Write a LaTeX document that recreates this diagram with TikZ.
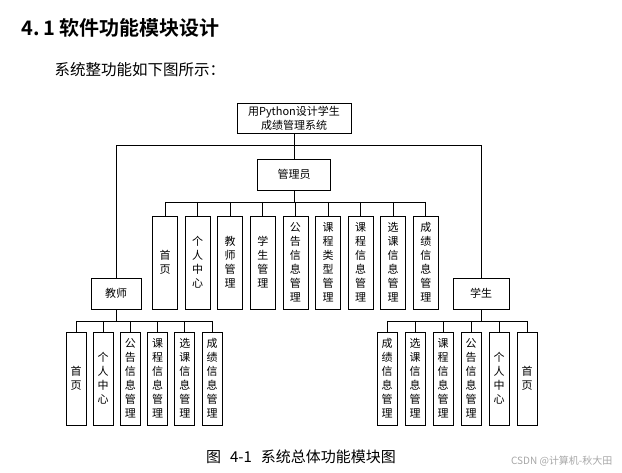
\documentclass[tikz,border=0pt]{standalone}
\usepackage{fontspec}
\setmainfont{Liberation Serif}
\newfontfamily\cjk[BoldFont={Noto Sans CJK SC Bold}]{Noto Sans CJK SC}
\tikzset{
  modbox/.style={draw, line width=0.7pt, fill=white, align=center, inner sep=0pt,
    font=\cjk\fontsize{11}{14}\selectfont},
  leafbox/.style={modbox, minimum height=93pt},
  link/.style={line width=0.7pt}
}
\begin{document}
\begin{tikzpicture}[x=1pt, y=-1pt]
  \useasboundingbox (0,0) rectangle (622,473);
  % 标题与说明
  \node[anchor=west, font=\cjk\bfseries\fontsize{20}{20}\selectfont] (title) at (18,28) {4.\,1\ 软件功能模块设计};
  \node[anchor=west, font=\cjk\fontsize{15.5}{15.5}\selectfont] (intro) at (51,70) {系统整功能如下图所示：};
  % 上层模块
  \node[modbox, minimum width=114pt, minimum height=30pt] (sys) at (294,118) {用Python设计学生\\成绩管理系统};
  \node[modbox, minimum width=73pt, minimum height=31pt] (admin) at (294,174.5) {管理员};
  \node[modbox, minimum width=50pt, minimum height=31pt] (teacher) at (116,293.5) {教师};
  \node[modbox, minimum width=56pt, minimum height=31pt] (student) at (481,293.5) {学生};
  \coordinate (sysbus) at (294,145);
  \draw[link] (sys.south) -- (admin.north);
  \draw[link] (teacher.north) -- (teacher.north |- sysbus) -- (student.north |- sysbus) -- (student.north);
  % 管理员功能
  \foreach \lbl [count=\i] in {{首\\页}, {个\\人\\中\\心}, {教\\师\\管\\理}, {学\\生\\管\\理},
      {公\\告\\信\\息\\管\\理}, {课\\程\\类\\型\\管\\理}, {课\\程\\信\\息\\管\\理},
      {选\\课\\信\\息\\管\\理}, {成\\绩\\信\\息\\管\\理}}
    \node[leafbox, minimum width=25pt] (a\i) at ({165+32.6*(\i-1)},262.5) {\lbl};
  \coordinate (abus) at (294,202);
  \draw[link] (admin.south) -- (abus);
  \draw[link] (a1.north |- abus) -- (a9.north |- abus);
  \foreach \i in {1,...,9}
    \draw[link] (a\i.north |- abus) -- (a\i.north);
  % 教师功能
  \foreach \lbl [count=\i] in {{首\\页}, {个\\人\\中\\心}, {公\\告\\信\\息\\管\\理},
      {课\\程\\信\\息\\管\\理}, {选\\课\\信\\息\\管\\理}, {成\\绩\\信\\息\\管\\理}}
    \node[leafbox, minimum width=20pt] (t\i) at ({76+27.2*(\i-1)},378.5) {\lbl};
  \coordinate (tbus) at (116,321);
  \draw[link] (teacher.south) -- (tbus);
  \draw[link] (t1.north |- tbus) -- (t6.north |- tbus);
  \foreach \i in {1,...,6}
    \draw[link] (t\i.north |- tbus) -- (t\i.north);
  % 学生功能
  \foreach \lbl [count=\i] in {{成\\绩\\信\\息\\管\\理}, {选\\课\\信\\息\\管\\理},
      {课\\程\\信\\息\\管\\理}, {公\\告\\信\\息\\管\\理}, {个\\人\\中\\心}, {首\\页}}
    \node[leafbox, minimum width=20pt] (s\i) at ({387+28*(\i-1)},378.5) {\lbl};
  \coordinate (sbus) at (481,321);
  \draw[link] (student.south) -- (sbus);
  \draw[link] (s1.north |- sbus) -- (s6.north |- sbus);
  \foreach \i in {1,...,6}
    \draw[link] (s\i.north |- sbus) -- (s\i.north);
  % 图题
  \node[font=\cjk\fontsize{15}{15}\selectfont] (caption) at (301,457) {图\hspace{9pt}4-1\hspace{9pt}系统总体功能模块图};
  \node[anchor=east, text=gray!70, font=\cjk\fontsize{10}{10}\selectfont] (mark) at (616,461) {CSDN @计算机-秋大田};
\end{tikzpicture}
\end{document}
